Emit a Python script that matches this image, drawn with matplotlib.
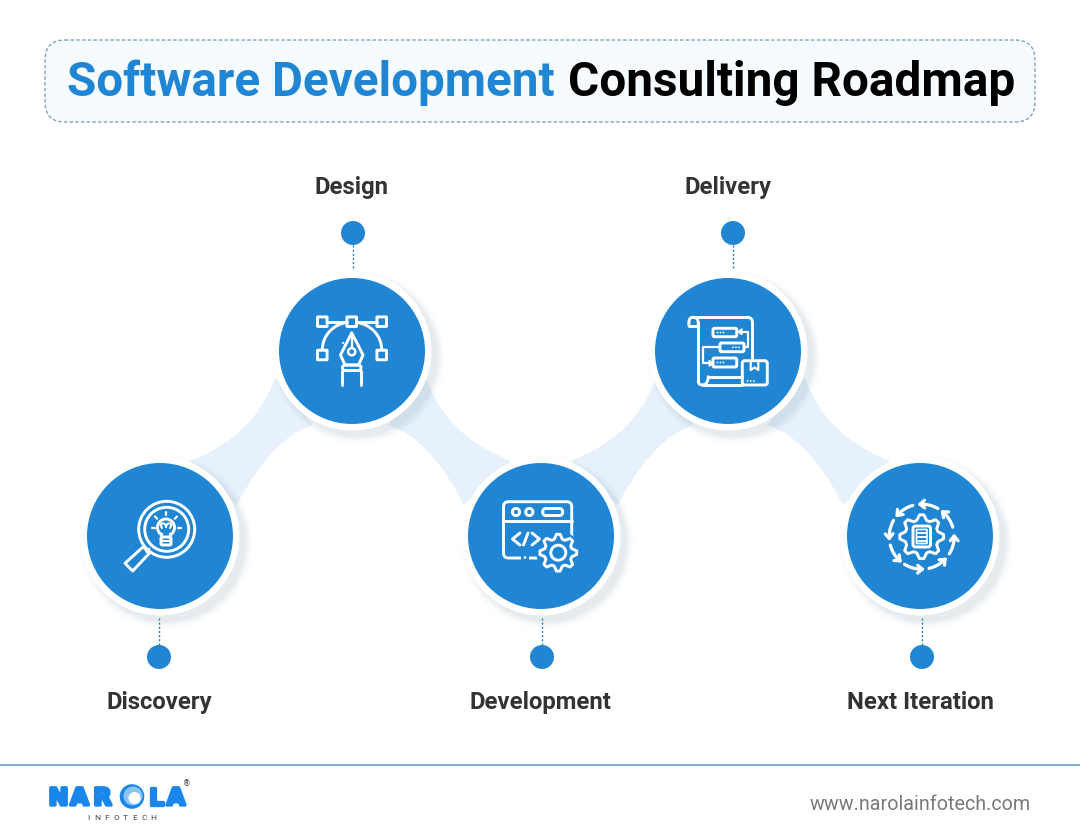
import math
import numpy as np
import matplotlib
matplotlib.use("Agg")
import matplotlib.pyplot as plt
from matplotlib.patches import Circle, FancyBboxPatch, PathPatch, Rectangle, Polygon
from matplotlib.path import Path
import matplotlib.patheffects as pe

# ---- content ----
title_blue = "Software Development"
title_black = "Consulting Roadmap"
stages = ["Discovery", "Design", "Development", "Delivery", "Next Iteration"]
node_x = [160, 352, 541, 728, 920]
node_y = [536, 351, 536, 351, 536]
dot_x = [159, 353, 542, 733, 922]
dot_y = [657, 233, 657, 233, 657]
label_x = [159.5, 352, 540, 728, 920.5]
label_y = [702.5, 187.5, 702.5, 187.5, 702.5]
website = "www.narolainfotech.com"
logo_letters = ["N", "A", "R", "L", "A"]
logo_letter_x = [58.5, 79.5, 102.5, 156, 176]
logo_sub = "INFOTECH"

BLUE = "#2086d3"
LW = 2.1
WHITE = "white"

fig = plt.figure(figsize=(10.8, 8.31), dpi=100, facecolor="white")
ax = fig.add_axes([0, 0, 1, 1])
ax.set_xlim(0, 1080)
ax.set_ylim(831, 0)
ax.axis("off")

# ---- title box ----
ax.add_patch(FancyBboxPatch((45 + 20, 40 + 20), 990 - 40, 82 - 40,
                            boxstyle="round,pad=20,rounding_size=20",
                            fc="#f6fbff", ec="#7fa3b8", lw=1.0,
                            ls=(0, (2.5, 1.6)), zorder=1))
ax.text(67, 96.5, title_blue, color=BLUE, fontsize=34.25, family="Roboto",
        weight="bold", ha="left", va="baseline", zorder=3)
ax.text(568, 96.5, title_black, color="black", fontsize=34.35, family="Roboto",
        weight="bold", ha="left", va="baseline", zorder=3)


# ---- connectors ----
def connector(x_left, x_right, rising):
    """Waist-shaped band between two neighbouring nodes."""
    def P(dx, dy):
        x = x_left + dx if rising else x_right - dx
        return (x, 536 - dy)
    verts = [P(30, 75),
             P(65, 89), P(98, 111), P(115, 158),
             P(153, 111),
             P(120, 101), P(95, 66), P(77, 31),
             P(30, 75)]
    codes = [Path.MOVETO, Path.CURVE4, Path.CURVE4, Path.CURVE4,
             Path.LINETO, Path.CURVE4, Path.CURVE4, Path.CURVE4,
             Path.CLOSEPOLY]
    ax.add_patch(PathPatch(Path(verts, codes), fc="#e6f1fb", ec="none", zorder=2))


for i in range(len(node_x) - 1):
    connector(node_x[i], node_x[i + 1], node_y[i + 1] < node_y[i])

# ---- nodes ----
for x, y in zip(node_x, node_y):
    for r, a in zip(np.arange(87, 78, -1.5), [.012, .016, .02, .026, .032, .04]):
        ax.add_patch(Circle((x + 6, y + 6), r, fc="#5a7fa0", ec="none", alpha=a, zorder=3))
    ax.add_patch(Circle((x, y), 79.5, fc="white", ec="none", zorder=4))
    ax.add_patch(Circle((x, y), 73, fc=BLUE, ec="none", zorder=5))

# ---- dots, dotted stems ----
for x, y, nx, ny in zip(dot_x, dot_y, node_x, node_y):
    y0, y1 = (y - 12, ny + 82) if y > ny else (y + 12, ny - 82)
    ax.plot([x, x], [y0, y1], color="#2b7fb8", lw=1.0, ls=(0, (1.5, 1.5)), zorder=3)
    ax.add_patch(Circle((x, y), 12, fc=BLUE, ec="none", zorder=5))

for name, x, y in zip(stages, label_x, label_y):
    ax.text(x, y, name, color="#333333", fontsize=17.2, family="Roboto",
            weight="bold", ha="center", va="center", zorder=5)


# ---- icon helpers ----
Z = 7
def line(xs, ys, lw=LW):
    ax.plot(xs, ys, color=WHITE, lw=lw, solid_capstyle="round",
            solid_joinstyle="round", zorder=Z)

def ring(x, y, r, lw=LW):
    ax.add_patch(Circle((x, y), r, fc="none", ec=WHITE, lw=lw, zorder=Z))

def rrect(x0, y0, x1, y1, rad=2, lw=LW):
    ax.add_patch(FancyBboxPatch((x0 + rad, y0 + rad), x1 - x0 - 2 * rad, y1 - y0 - 2 * rad,
                                boxstyle=f"round,pad={rad},rounding_size={rad}",
                                fc="none", ec=WHITE, lw=lw, zorder=Z))

def dot(x, y, r=1.1):
    ax.add_patch(Circle((x, y), r, fc=WHITE, ec="none", zorder=Z))

def curve(pts, lw=LW):
    codes = [Path.MOVETO] + [Path.CURVE4] * (len(pts) - 1)
    ax.add_patch(PathPatch(Path(pts, codes), fc="none", ec=WHITE, lw=lw,
                           capstyle="round", joinstyle="round", zorder=Z))

def cover(x0, y0, x1, y1):
    ax.add_patch(Rectangle((x0, y0), x1 - x0, y1 - y0, fc=BLUE, ec="none", zorder=Z))

def gear(cx, cy, r_out, r_in, teeth):
    n = teeth * 4
    pts = []
    for k in range(n):
        a = 2 * math.pi * (k - 0.5) / n
        r = r_out if (k % 4) in (0, 1) else r_in
        pts.append((cx + r * math.cos(a), cy + r * math.sin(a)))
    ax.add_patch(Polygon(pts, closed=True, fc="none", ec=WHITE, lw=LW,
                         joinstyle="round", zorder=Z))

def head(x, y, ang, size=4.2, lw=LW):
    for d in (140, -140):
        a = ang + math.radians(d)
        line([x, x + size * math.cos(a)], [y, y + size * math.sin(a)], lw)


# Discovery: magnifier with bulb
ring(166.7, 529.3, 28)
ring(166.7, 529.3, 22)
ax.add_patch(Polygon([(143.3, 546.7), (149.3, 553.3), (132.7, 571), (125, 563.3)], closed=True,
                     fc="none", ec=WHITE, lw=LW, joinstyle="round", zorder=Z))
line([149, 146.5], [549, 551.5])
ring(166, 527.5, 8.5)
cover(161, 534, 171, 537)
line([161.5, 162], [534, 538])
line([170.5, 170], [534, 538])
rrect(161, 537, 171, 545, 1.5)
line([161, 171], [541, 541], 1.5)
curve([(162, 528), (158, 522), (166, 522), (166, 527)], 1.5)
curve([(170, 528), (174, 522), (166, 522), (166, 527)], 1.5)
for a in (-90, -45, -135):
    c = math.radians(a)
    line([166 + 12.5 * math.cos(c), 166 + 15.5 * math.cos(c)],
         [527.5 + 12.5 * math.sin(c), 527.5 + 15.5 * math.sin(c)], 1.6)
line([151.5, 154.5], [528, 528], 1.6)
line([177.5, 180.5], [528, 528], 1.6)

# Design: pen nib with bezier handles
for x, y in [(322.3, 321.7), (351.7, 321.7), (381.7, 321.7), (322.3, 355), (381.7, 355)]:
    rrect(x - 4.8, y - 4.8, x + 4.8, y + 4.8, 0.5)
line([327, 347], [321.7, 321.7])
line([356.5, 377], [321.7, 321.7])
curve([(322.3, 350), (322.3, 335), (334, 324), (347, 322.5)])
curve([(381.7, 350), (381.7, 335), (370, 324), (356.5, 322.5)])
line([351.7, 345.5, 340.5, 345, 358.5, 363, 358, 351.7], [333, 345, 355, 365, 365, 355, 345, 333])
line([351.7, 351.7], [333, 347.5], 1.6)
ring(351.7, 351.7, 3.6, 1.8)
rrect(342.5, 365, 361, 370.5, 2.5)
line([342.3, 342.3], [370.5, 385])
line([361, 361], [370.5, 385])
dot(343, 343)

# Development: browser window with gear
rrect(503.5, 501.7, 571.7, 558, 5)
line([503.5, 571.7], [520.7, 520.7])
ring(516, 512, 3.6)
ring(529.3, 512, 3.6)
rrect(542.7, 508.5, 562.7, 515.5, 3.4)
line([520, 512.5, 520], [533, 539, 545])
line([523.5, 528], [545, 533])
line([532, 539.5, 532], [533, 539, 545])
cover(521, 555, 529, 561)
dot(525, 557.5, 1.4)
ax.add_patch(Circle((558.3, 552.7), 22, fc=BLUE, ec="none", zorder=Z))
cover(560, 548, 575, 562)
gear(558.3, 552.7, 18.5, 14, 8)
ring(558.3, 552.7, 7.5)

# Delivery: scroll with flow and box
line([693, 747], [317.3, 317.3])
curve([(747, 317.3), (750.5, 317.3), (752.3, 319), (752.3, 322)])
line([752.3, 752.3], [322, 360])
curve([(693, 317.3), (689, 317.3), (688.5, 321), (689, 326)])
line([689, 698.3], [326, 326])
curve([(693, 317.3), (697, 317.3), (698.3, 320), (698.3, 324)])
line([698.3, 698.3], [322, 381])
curve([(698.3, 381), (698.3, 384), (700, 385), (703, 385)])
line([703, 742], [385, 385])
curve([(703, 385), (706, 385), (708.3, 381), (708.3, 376.7)])
line([708.3, 742], [376.7, 376.7])
rrect(713, 328.3, 736.7, 336.7, 1.5)
rrect(720, 343, 744, 351.7, 1.5)
rrect(713, 358, 736.7, 367, 1.5)
for bx, by in [(717.5, 332.5), (733, 347.3), (717.5, 362.5)]:
    for k in range(3):
        dot(bx + 3 * k, by, 0.9)
line([744, 748, 748, 739], [347.3, 347.3, 331.7, 331.7], 1.6)
head(739, 331.7, math.pi, 3.5, 1.6)
line([720, 703.3, 703.3, 712], [347.3, 347.3, 363.3, 363.3], 1.6)
head(712, 363.3, 0, 3.5, 1.6)
rrect(742.3, 360.7, 767.3, 385, 2.5)
line([750.7, 750.7, 754.5, 758.3, 758.3], [361, 370, 367.5, 370, 361], 1.6)
for k in range(3):
    dot(747.5 + 3.2 * k, 381, 0.9)

# Next iteration: gear with arrow ring
gc = (921.7, 536.7)
gear(gc[0], gc[1], 22, 17, 8)
rrect(913, 526, 930.5, 547, 2.5)
rrect(916.5, 529.5, 927, 543.5, 0.5, 1.2)
for yy in (533, 537, 541):
    line([917.5, 926], [yy, yy], 1.4)
arrow_start = [-60, -106, -150, 165, 122, 77, 32, -17]
ARROW_SPAN, ARROW_R = 33, 32.5
for st in arrow_start:
    aa = np.radians(np.linspace(st, st - ARROW_SPAN, 12))
    xs = gc[0] + ARROW_R * np.cos(aa)
    ys = gc[1] + ARROW_R * np.sin(aa)
    line(xs, ys, 2.3)
    head(xs[-1], ys[-1], math.atan2(ys[-1] - ys[-2], xs[-1] - xs[-2]), 6, 2.3)

# ---- footer ----
ax.plot([0, 1080], [764.5, 764.5], color="#6fa9cb", lw=1.3, zorder=2)
ax.text(1030.5, 804, website, color="#7a7a7a", fontsize=14.25, family="Roboto",
        ha="right", va="center", zorder=3)
LOGO = "#1a86ea"
for ch, x in zip(logo_letters, logo_letter_x):
    ax.text(x, 805, ch, color=LOGO, fontsize=17, family="DejaVu Sans", weight="bold",
            ha="center", va="baseline", zorder=3,
            path_effects=[pe.withStroke(linewidth=2.4, foreground=LOGO)])
ax.add_patch(Circle((132, 796.5), 12.3, fc=LOGO, ec="none", zorder=3))
ax.add_patch(Circle((133, 796), 9.5, fc="#8cc4f2", ec="none", zorder=3))
ax.add_patch(Circle((134.5, 798), 6, fc="white", ec="none", zorder=3))
ax.text(186.5, 783.5, "®", color="#333333", fontsize=5.5, family="DejaVu Sans",
        ha="center", va="center", zorder=3)
for k, ch in enumerate(logo_sub):
    ax.text(88 + k * 9.3, 818, ch, color="#444444", fontsize=6, family="Roboto",
            ha="center", va="center", zorder=3)

fig.savefig("out.png", dpi=100)
